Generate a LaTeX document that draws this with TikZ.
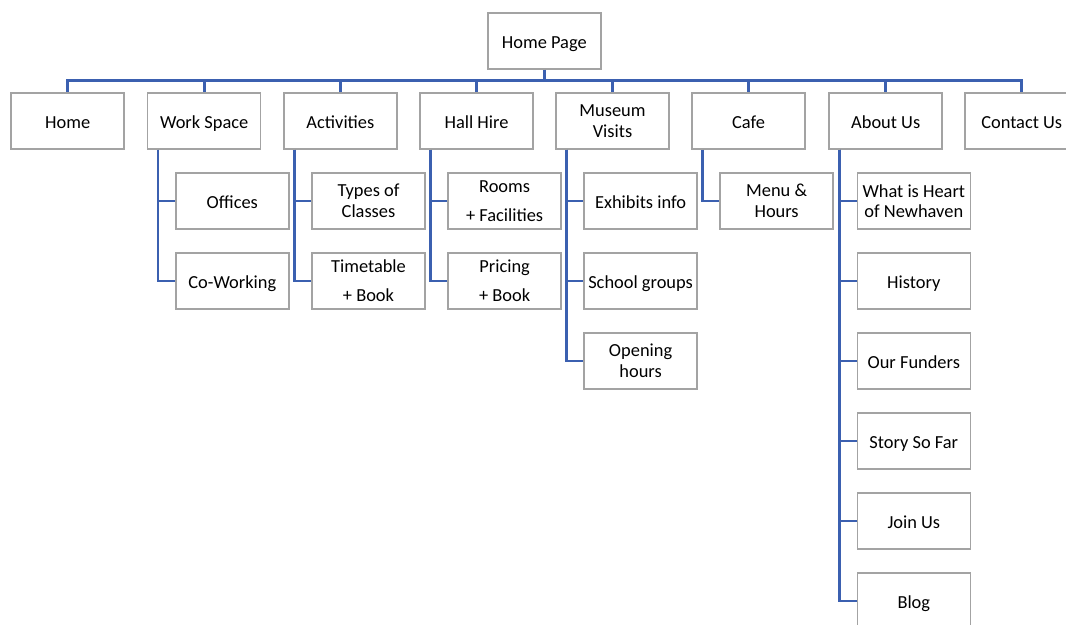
\documentclass[tikz,border=0pt]{standalone}
\usepackage{fontspec}
\setmainfont{Carlito}
\usetikzlibrary{calc}
\definecolor{linkblue}{HTML}{3B60B0}
\definecolor{boxgray}{HTML}{A3A3A3}
\begin{document}
\begin{tikzpicture}[x=0.75pt,y=-0.75pt,
  pbox/.style={draw=boxgray,line width=1.1pt,fill=white,minimum width=113*0.75pt,minimum height=56*0.75pt,
    inner sep=0pt,align=center,font=\fontsize{13.8}{15.4}\selectfont,text=black},
  one/.style={pbox,text height=11.1pt,text depth=0pt},
  link/.style={draw=linkblue,line width=2pt}]
\clip (0,0) rectangle (1066,624);
\fill[white] (0,0) rectangle (1066,624);
% nodes
\node[one] (hp) at (544.3,41) {Home Page};
\node[one] (home) at (67.7,121) {Home};
\node[one] (ws) at (204.2,121) {Work Space};
\node[one] (act) at (340.4,121) {Activities};
\node[one] (hall) at (476.5,121) {Hall Hire};
\node[pbox] (mus) at (612.5,121) {Museum\\Visits};
\node[one] (cafe) at (748.5,121) {Cafe};
\node[one] (about) at (885.7,121) {About Us};
\node[one] (contact) at (1021.7,121) {Contact Us};
% children
\node[one] (off) at (232.3,201) {Offices};
\node[one] (cow) at (232.3,281) {Co-Working};
\node[pbox] (types) at (368.5,201) {Types of\\Classes};
\node[pbox] (tt) at (368.5,281) {Timetable\\[6.5pt]+ Book};
\node[pbox] (rooms) at (504.6,201) {Rooms\\[6.5pt]+ Facilities};
\node[pbox] (price) at (504.6,281) {Pricing\\[6.5pt]+ Book};
\node[one] (exh) at (640.6,201) {Exhibits info};
\node[one] (school) at (640.6,281) {School groups};
\node[pbox] (open) at (640.6,361) {Opening\\hours};
\node[pbox] (menu) at (776.6,201) {Menu \&\\Hours};
\node[pbox] (what) at (913.8,201) {What is Heart\\of Newhaven};
\node[one] (hist) at (913.8,281) {History};
\node[one] (fund) at (913.8,361) {Our Funders};
\node[one] (story) at (913.8,441) {Story So Far};
\node[one] (join) at (913.8,521) {Join Us};
\node[one] (blog) at (913.8,601) {Blog};
% top connectors
\coordinate (bus) at (544.3,80.5);
\draw[link] (hp.south) -- (bus);
\foreach \n in {home,ws,act,hall,mus,cafe,about,contact}
  \draw[link] (bus) -| (\n.north);
% child connectors
\foreach \p/\c in {ws/off,ws/cow,act/types,act/tt,hall/rooms,hall/price,mus/exh,mus/school,mus/open,cafe/menu,about/what,about/hist,about/fund,about/story,about/join,about/blog}
  \draw[link] ($(\p.south west)+(11,0)$) |- (\c.west);
\end{tikzpicture}
\end{document}
